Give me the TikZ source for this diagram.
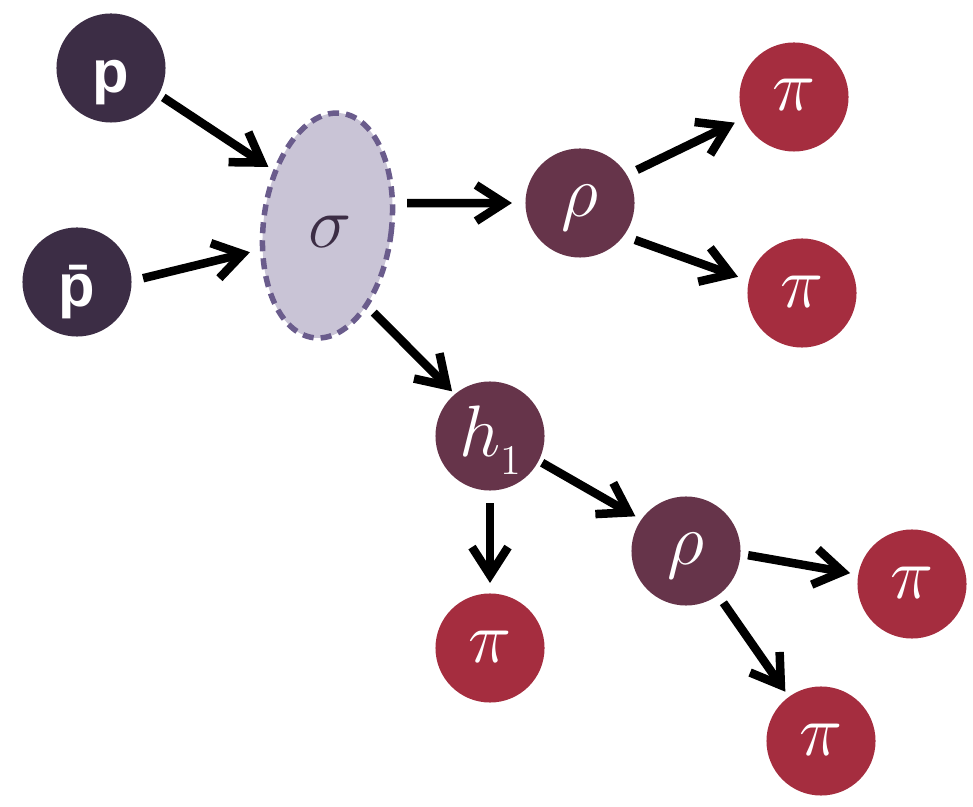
\documentclass[tikz,border=0pt]{standalone}
\usepackage{fontspec}
\usetikzlibrary{arrows.meta,shapes.geometric}
\newfontfamily\sansb{Liberation Sans}
\definecolor{cdark}{RGB}{60,45,69}
\definecolor{crho}{RGB}{102,52,74}
\definecolor{cpi}{RGB}{165,45,63}
\definecolor{cellfill}{RGB}{201,196,214}
\definecolor{celldraw}{RGB}{106,92,140}
\tikzset{
  ball/.style={circle, minimum size=1.09cm, inner sep=0pt, outer sep=0pt, text=white},
  pnode/.style={ball, fill=cdark, font=\sansb\bfseries\fontsize{17}{17}\selectfont, text height=0.48cm, text depth=0pt},
  rnode/.style={ball, fill=crho, font=\fontsize{19.5}{19.5}\selectfont, text height=0.27cm, text depth=0pt},
  hnode/.style={ball, fill=crho, font=\fontsize{19.5}{19.5}\selectfont, text height=0.40cm, text depth=0pt},
  pinode/.style={ball, fill=cpi, font=\fontsize{19.5}{19.5}\selectfont, text height=0.28cm, text depth=0pt},
  ell/.style={ellipse, minimum width=1.28cm, minimum height=2.26cm, inner sep=0pt, outer sep=0pt,
    fill=cellfill, draw=celldraw, line width=0.055cm, dash pattern=on 0.11cm off 0.07cm, rotate=-7},
  sig/.style={inner sep=0pt, text=cdark, font=\fontsize{19.5}{19.5}\selectfont},
  arr/.style={line width=0.085cm, draw=black, -{Straight Barb[length=0.28cm,width=0.36cm,sharp]}}
}
\begin{document}
\begin{tikzpicture}[x=0.01cm,y=-0.01cm]
\useasboundingbox (0,0) rectangle (973,807);
\node[pnode] (p) at (111,68) {p};
\node[pnode] (pb) at (77,282) {\={p}};
\node[ell] (s) at (327.5,225.5) {};
\node[sig] (sl) at (330,232) {$\sigma$};
\node[rnode] (r1) at (580,203) {$\rho$};
\node[pinode] (pi1) at (794,97) {$\pi$};
\node[pinode] (pi2) at (802,293) {$\pi$};
\node[hnode] (h) at (490,436) {$h$\raisebox{-0.18cm}{\fontsize{12}{12}\selectfont 1}};
\node[pinode] (pi3) at (490,648) {$\pi$};
\node[rnode] (r2) at (686,551) {$\rho$};
\node[pinode] (pi4) at (912,584) {$\pi$};
\node[pinode] (pi5) at (821,741) {$\pi$};

\draw[arr, shorten <=0.055cm, shorten >=0.085cm] (p.-29.6) -- (s.141.8);
\draw[arr, shorten <=0.119cm, shorten >=0.13cm] (pb.1.4) -- (s.207.7);
\draw[arr, shorten <=0.146cm, shorten >=0.135cm] (s.26.1) -- (r1.180);
\draw[arr, shorten <=0.1055cm, shorten >=0.041cm] (s.-57.5) -- (h.130.5);
\draw[arr, shorten <=0.114cm, shorten >=0.10cm] (r1.31) -- (pi1.203.5);
\draw[arr, shorten <=0.122cm, shorten >=0.115cm] (r1.-37.1) -- (pi2.167.2);
\draw[arr, shorten <=0.125cm, shorten >=0.105cm] (h.-90) -- (pi3.90);
\draw[arr, shorten <=0.041cm, shorten >=0.068cm] (h.-27.2) -- (r2.145.8);
\draw[arr, shorten <=0.077cm, shorten >=0.083cm] (r2.-3.9) -- (pi4.170.9);
\draw[arr, shorten <=0.093cm, shorten >=0.063cm] (r2.-54.4) -- (pi5.126.5);
\end{tikzpicture}
\end{document}
